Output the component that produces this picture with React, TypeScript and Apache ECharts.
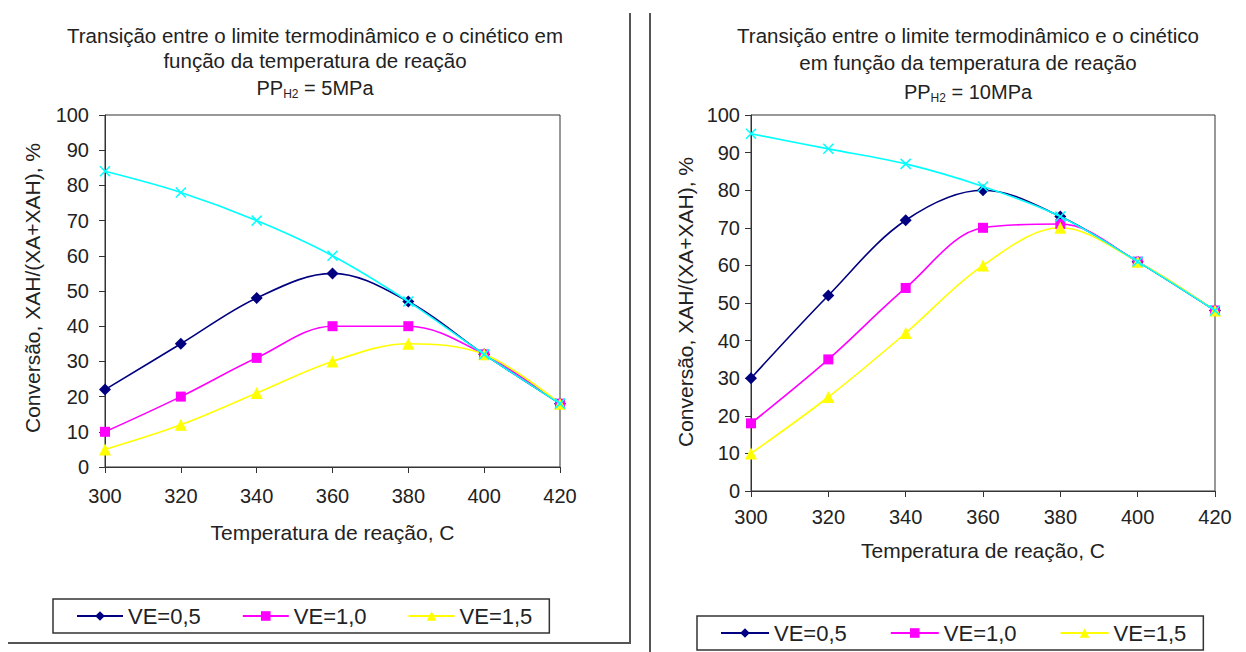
import React, { useEffect, useRef } from "react";
import * as echarts from "echarts";

const temps = [300, 320, 340, 360, 380, 400, 420];
const xTicks = { min: 300, max: 420, interval: 20 };

// PP H2 = 5 MPa
const left05 = [22, 35, 48, 55, 47, 32, 18];
const left10 = [10, 20, 31, 40, 40, 32, 18];
const left15 = [5, 12, 21, 30, 35, 32, 18];
const leftEq = [84, 78, 70, 60, 47, 32, 18];

// PP H2 = 10 MPa
const right05 = [30, 52, 72, 80, 73, 61, 48];
const right10 = [18, 35, 54, 70, 71, 61, 48];
const right15 = [10, 25, 42, 60, 70, 61, 48];
const rightEq = [95, 91, 87, 81, 73, 61, 48];

const names = ["VE=0,5", "VE=1,0", "VE=1,5"];
const titleLine1L = "Transição entre o limite termodinâmico e o cinético em";
const titleLine2L = "função da temperatura de reação";
const titleLine1R = "Transição entre o limite termodinâmico e o cinético";
const titleLine2R = "em função da temperatura de reação";
const xName = "Temperatura de reação, C";
const yName = "Conversão, XAH/(XA+XAH), %";

const FONT = "'Liberation Sans', Arial, sans-serif";
const TXT = "#222";
const CROSS = "path://M0,0L10,10M10,0L0,10";

export default function App() {
  const ref = useRef<HTMLDivElement>(null);
  useEffect(() => {
    document.body.style.margin = "0";
    const chart = echarts.init(ref.current!, null, { renderer: "svg" });
    const pts = (v: number[]) => temps.map((t, i) => [t, v[i]]);
    const mk = (name: string, v: number[], idx: number, color: string, symbol: string, size: number, z = 2) => ({
      type: "line",
      name,
      xAxisIndex: idx,
      yAxisIndex: idx,
      data: pts(v),
      smooth: 0.35,
      symbol,
      symbolSize: size,
      z,
      lineStyle: { color, width: 1.6 },
      itemStyle: symbol === CROSS ? { color, borderColor: color, borderWidth: 1.5 } : { color },
      emphasis: { disabled: true },
    });
    const xAx = (idx: number, margin: number, gap: number) => ({
      type: "value",
      gridIndex: idx,
      ...xTicks,
      name: xName,
      nameLocation: "middle",
      nameGap: gap,
      nameTextStyle: { fontFamily: FONT, fontSize: 21, color: TXT },
      axisLine: { lineStyle: { color: "#333", width: 1 } },
      axisTick: { show: true, inside: false, length: 6, lineStyle: { color: "#333" } },
      axisLabel: { fontFamily: FONT, fontSize: 20, color: TXT, margin },
      splitLine: { show: false },
    });
    const yAx = (idx: number, margin: number) => ({
      type: "value",
      gridIndex: idx,
      min: 0,
      max: 100,
      interval: 10,
      axisLine: { show: true, lineStyle: { color: "#333", width: 1 } },
      axisTick: { show: true, inside: false, length: 6, lineStyle: { color: "#333" } },
      axisLabel: { fontFamily: FONT, fontSize: 20, color: TXT, margin },
      splitLine: { show: false },
    });
    const legendBase = {
      data: names,
      orient: "horizontal",
      itemHeight: 12,
      textStyle: { fontFamily: FONT, fontSize: 22, color: TXT },
      borderColor: "#333",
      borderWidth: 1.5,
      borderRadius: 0,
      selectedMode: false,
    };
    const rich = {
      a: { fontFamily: FONT, fontSize: 20, fill: TXT },
      s: { fontFamily: FONT, fontSize: 12, fill: TXT, padding: [12, 0, 0, 0] },
    };
    const ttl = (x: number, y: number, text: string) => ({
      type: "text",
      x,
      y,
      style: { text, fill: TXT, font: `20.5px ${FONT}`, align: "center", verticalAlign: "middle" },
    });
    chart.setOption({
      animation: false,
      grid: [
        { left: 105, top: 115, width: 455, height: 352, show: true, borderColor: "#333", borderWidth: 1 },
        { left: 751, top: 115, width: 464, height: 376, show: true, borderColor: "#333", borderWidth: 1 },
      ],
      xAxis: [xAx(0, 19, 55), xAx(1, 16, 49)],
      yAxis: [yAx(0, 16), yAx(1, 11)],
      legend: [
        { ...legendBase, left: 53, top: 599, itemWidth: 46, itemGap: 41, padding: [6, 17, 6, 23] },
        { ...legendBase, left: 697, top: 616, itemWidth: 48, itemGap: 43, padding: [6, 17, 6, 23] },
      ],
      series: [
        mk(names[0], left05, 0, "#000080", "diamond", 12),
        mk(names[1], left10, 0, "#FF00FF", "rect", 10),
        mk(names[2], left15, 0, "#FFFF00", "triangle", 12),
        mk("Equilíbrio 5MPa", leftEq, 0, "#00FFFF", CROSS, 10, 3),
        mk(names[0], right05, 1, "#000080", "diamond", 12),
        mk(names[1], right10, 1, "#FF00FF", "rect", 10),
        mk(names[2], right15, 1, "#FFFF00", "triangle", 12),
        mk("Equilíbrio 10MPa", rightEq, 1, "#00FFFF", CROSS, 10, 3),
      ],
      graphic: [
        { type: "line", shape: { x1: 630, y1: 13, x2: 630, y2: 643 }, style: { stroke: "#555", lineWidth: 2 } },
        { type: "line", shape: { x1: 8, y1: 643, x2: 631, y2: 643 }, style: { stroke: "#555", lineWidth: 2 } },
        { type: "line", shape: { x1: 650, y1: 13, x2: 650, y2: 652 }, style: { stroke: "#555", lineWidth: 2 } },
        ttl(315, 35, titleLine1L),
        ttl(315, 60, titleLine2L),
        {
          type: "text",
          x: 315,
          y: 88,
          style: { text: "{a|PP}{s|H2}{a| = 5MPa}", rich, align: "center", verticalAlign: "middle", fill: TXT },
        },
        ttl(968, 35, titleLine1R),
        ttl(968, 62, titleLine2R),
        {
          type: "text",
          x: 968,
          y: 92,
          style: { text: "{a|PP}{s|H2}{a| = 10MPa}", rich, align: "center", verticalAlign: "middle", fill: TXT },
        },
        {
          type: "text",
          x: 32,
          y: 288,
          rotation: Math.PI / 2,
          style: { text: yName, fill: TXT, font: `21px ${FONT}`, align: "center", verticalAlign: "middle" },
        },
        {
          type: "text",
          x: 685,
          y: 302,
          rotation: Math.PI / 2,
          style: { text: yName, fill: TXT, font: `21px ${FONT}`, align: "center", verticalAlign: "middle" },
        },
      ],
    });
    return () => chart.dispose();
  }, []);
  return <div ref={ref} style={{ width: 1246, height: 652 }} />;
}
